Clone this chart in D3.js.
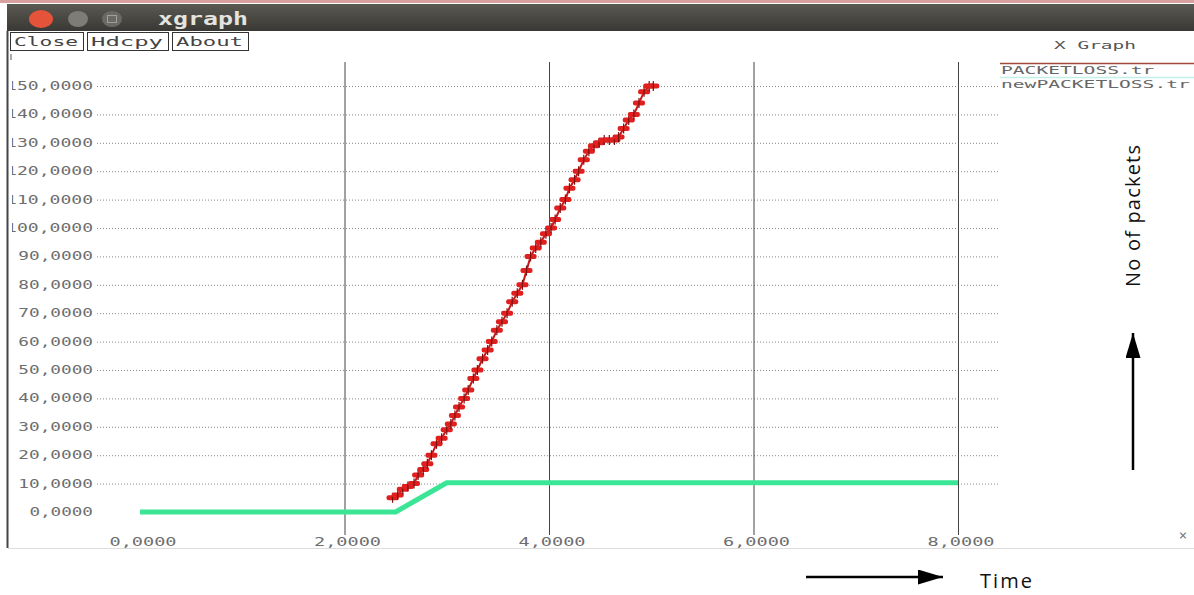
<!DOCTYPE html>
<head>
  <style>
    body { margin: 0; background: #fff; }
    .mono { font-family: "DejaVu Sans Mono", monospace; }
  </style>
</head>
<body>
<script src="https://cdn.jsdelivr.net/npm/d3@7"></script>
<script>
  // series (time in s, packets)
  var lossTime = [2.47, 2.52, 2.57, 2.62, 2.68, 2.72, 2.77, 2.81, 2.85, 2.90, 2.95, 3.00, 3.04, 3.08,
                  3.12, 3.17, 3.21, 3.26, 3.30, 3.35, 3.40, 3.44, 3.49, 3.54, 3.59, 3.64, 3.69, 3.74,
                  3.78, 3.82, 3.87, 3.92, 3.97, 4.02, 4.06, 4.11, 4.16, 4.20, 4.25, 4.29, 4.34, 4.39,
                  4.44, 4.49, 4.54, 4.59, 4.64, 4.68, 4.73, 4.78, 4.83, 4.88, 4.93, 4.98, 5.02];
  var lossPackets = [5, 6, 8, 9, 10, 13, 15, 17, 20, 24, 26, 29, 31, 34,
                     37, 40, 43, 47, 50, 54, 57, 60, 64, 67, 70, 74, 77, 80,
                     85, 90, 93, 95, 98, 100, 103, 107, 110, 114, 117, 120, 124, 127,
                     129, 130, 131, 131, 131, 132, 135, 138, 140, 144, 148, 150, 150];
  var newTime = [0, 2.5, 3.0, 8.0];
  var newPackets = [0, 0, 10.3, 10.3];

  var xTicks = [0, 2, 4, 6, 8];
  var yTicks = [0, 10, 20, 30, 40, 50, 60, 70, 80, 90, 100, 110, 120, 130, 140, 150];
  var legendNames = ["PACKETLOSS.tr", "newPACKETLOSS.tr"];
  var buttons = ["Close", "Hdcpy", "About"];

  var W = 1194, H = 595;
  var svg = d3.select("body").append("svg").attr("width", W).attr("height", H);
  var defs = svg.append("defs");

  var x = d3.scaleLinear().domain([0, 8]).range([140, 958]);
  var y = d3.scaleLinear().domain([0, 150]).range([512, 86]);

  function fmt(v) { return v + ",0000"; }

  // page border strip + window frame
  svg.append("rect").attr("x", 0).attr("y", 0).attr("width", W).attr("height", 3).attr("fill", "#d9a0a0");
  var tb = defs.append("linearGradient").attr("id", "tb").attr("x1", 0).attr("x2", 0).attr("y1", 0).attr("y2", 1);
  tb.append("stop").attr("offset", 0).attr("stop-color", "#5a5952");
  tb.append("stop").attr("offset", 1).attr("stop-color", "#393834");
  svg.append("rect").attr("x", 7).attr("y", 4).attr("width", W - 7).attr("height", 27).attr("fill", "url(#tb)");
  svg.append("ellipse").attr("cx", 41).attr("cy", 19).attr("rx", 12).attr("ry", 9).attr("fill", "#e4533a");
  svg.append("ellipse").attr("cx", 78).attr("cy", 19).attr("rx", 10).attr("ry", 8).attr("fill", "#7d7c77");
  svg.append("ellipse").attr("cx", 112).attr("cy", 19).attr("rx", 10).attr("ry", 8).attr("fill", "#6a6964");
  svg.append("rect").attr("x", 107.5).attr("y", 15.5).attr("width", 9).attr("height", 7).attr("fill", "none").attr("stroke", "#a09f9a");
  svg.append("text").attr("x", 158).attr("y", 25).attr("fill", "#e4e3de")
     .style("font", "bold 17px 'DejaVu Sans Mono'").attr("textLength", 90).attr("lengthAdjust", "spacingAndGlyphs").text("xgraph");

  svg.append("line").attr("x1", 7.5).attr("x2", 7.5).attr("y1", 31).attr("y2", 548).attr("stroke", "#444").attr("stroke-width", 2);
  svg.append("line").attr("x1", 8).attr("x2", W).attr("y1", 548.5).attr("y2", 548.5).attr("stroke", "#ddd");

  // buttons
  var bx = [10, 87, 172], bw = [73, 81, 76];
  buttons.forEach(function (b, i) {
    svg.append("rect").attr("x", bx[i] + 0.5).attr("y", 32.5).attr("width", bw[i]).attr("height", 18)
       .attr("fill", "#fff").attr("stroke", "#333");
    svg.append("text").attr("class", "mono").attr("x", bx[i] + 4).attr("y", 46).attr("fill", "#444")
       .style("font-size", "13px").attr("textLength", bw[i] - 9).attr("lengthAdjust", "spacingAndGlyphs").text(b);
  });
  svg.append("line").attr("x1", 11).attr("x2", 11).attr("y1", 54).attr("y2", 60).attr("stroke", "#555");

  svg.append("text").attr("class", "mono").attr("x", 1095).attr("y", 49).attr("text-anchor", "middle")
     .attr("fill", "#555").style("font-size", "11px").attr("textLength", 82).attr("lengthAdjust", "spacingAndGlyphs").text("X Graph");

  // legend
  var legCol = ["#a24a3a", "#c3efe9"];
  var legLineY = [63.5, 77.5];
  legendNames.forEach(function (n, i) {
    svg.append("line").attr("x1", 1000).attr("x2", W).attr("y1", legLineY[i]).attr("y2", legLineY[i])
       .attr("stroke", legCol[i]).attr("stroke-width", 1.5);
    svg.append("text").attr("class", "mono").attr("x", 1001).attr("y", 74 + i * 14).attr("fill", "#666")
       .style("font-size", "11px").attr("textLength", n.length * 11.8).attr("lengthAdjust", "spacingAndGlyphs").text(n);
  });

  // grid
  svg.selectAll(".hgrid").data(yTicks.filter(function (d) { return d > 0; })).enter().append("line")
     .attr("x1", 97).attr("x2", 1000).attr("y1", function (d) { return y(d) + 0.5; }).attr("y2", function (d) { return y(d) + 0.5; })
     .attr("stroke", "#888").attr("stroke-dasharray", "1,2");
  svg.selectAll(".vgrid").data(xTicks.filter(function (d) { return d > 0; })).enter().append("line")
     .attr("x1", function (d) { return x(d) + 0.5; }).attr("x2", function (d) { return x(d) + 0.5; })
     .attr("y1", 62).attr("y2", 535).attr("stroke", "#444");

  // axis labels (leading "1" hidden behind the window border as in the screenshot)
  svg.append("clipPath").attr("id", "lc").append("rect").attr("x", 12).attr("y", 0).attr("width", W).attr("height", H);
  svg.append("g").attr("clip-path", "url(#lc)").selectAll("text").data(yTicks).enter().append("text")
     .attr("class", "mono").attr("x", 93).attr("y", function (d) { return y(d) + 4; }).attr("text-anchor", "end")
     .attr("fill", "#6e6e6e").style("font-size", "12px")
     .attr("textLength", function (d) { return d >= 100 ? 87 : fmt(d).length * 11.1 - 3; }).attr("lengthAdjust", "spacingAndGlyphs")
     .text(fmt);
  svg.selectAll(".xl").data(xTicks).enter().append("text")
     .attr("class", "mono").attr("x", function (d) { return x(d) + 3; }).attr("y", 546).attr("text-anchor", "middle")
     .attr("fill", "#6e6e6e").style("font-size", "12px").attr("textLength", 67).attr("lengthAdjust", "spacingAndGlyphs")
     .text(fmt);
  svg.append("text").attr("class", "mono").attr("x", 1183).attr("y", 540).attr("text-anchor", "middle")
     .attr("fill", "#777").style("font-size", "14px").text("×");

  // series
  var green = newTime.map(function (t, i) { return [t, newPackets[i]]; });
  var red = lossTime.map(function (t, i) { return [t, lossPackets[i]]; });
  var line = d3.line().x(function (d) { return x(d[0]); }).y(function (d) { return y(d[1]); });

  svg.append("path").datum(green).attr("d", line).attr("fill", "none")
     .attr("stroke", "#3ae596").attr("stroke-width", 5).attr("stroke-linejoin", "round");
  svg.append("path").datum(red).attr("d", line).attr("fill", "none")
     .attr("stroke", "#c41818").attr("stroke-width", 2);
  var mk = svg.selectAll(".mk").data(red).enter().append("g")
     .attr("transform", function (d) { return "translate(" + x(d[0]) + "," + y(d[1]) + ")"; });
  mk.append("rect").attr("x", -6).attr("y", -2.5).attr("width", 12).attr("height", 5).attr("rx", 2).attr("fill", "#e01f1f");
  mk.append("line").attr("x1", 0).attr("x2", 0).attr("y1", -5).attr("y2", 5).attr("stroke", "#7a1010").attr("stroke-width", 1.2);

  // annotations outside the window
  defs.append("marker").attr("id", "ah").attr("viewBox", "0 0 20 12").attr("refX", 20).attr("refY", 6)
      .attr("markerWidth", 10).attr("markerHeight", 6).attr("orient", "auto")
      .append("path").attr("d", "M0,0L20,6L0,12Z").attr("fill", "#000");
  svg.append("line").attr("x1", 806).attr("x2", 943).attr("y1", 577).attr("y2", 577)
     .attr("stroke", "#000").attr("stroke-width", 2.5).attr("marker-end", "url(#ah)");
  svg.append("text").attr("x", 980).attr("y", 588).attr("fill", "#111").attr("textLength", 52)
     .style("font", "20px 'Open Sans', sans-serif").text("Time");
  svg.append("line").attr("x1", 1133).attr("x2", 1133).attr("y1", 470).attr("y2", 333)
     .attr("stroke", "#000").attr("stroke-width", 2.5).attr("marker-end", "url(#ah)");
  svg.append("text").attr("transform", "translate(1140,216) rotate(-90)").attr("text-anchor", "middle")
     .attr("fill", "#111").attr("textLength", 142).style("font", "20px 'Open Sans', sans-serif").text("No of packets");
</script>
</body>
